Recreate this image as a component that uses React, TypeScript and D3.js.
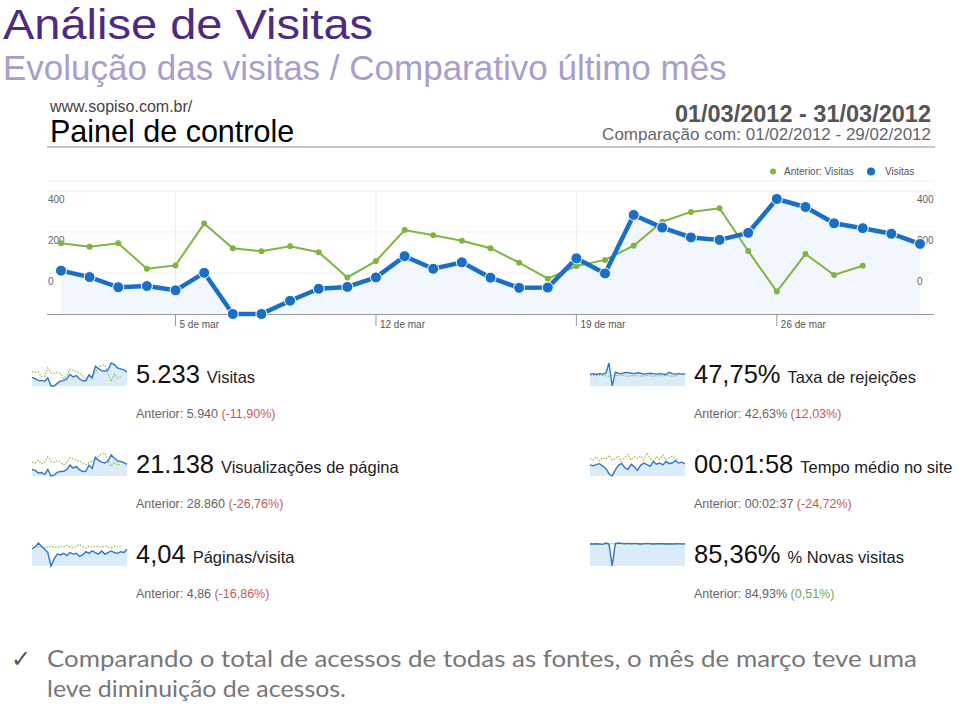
import React from "react";
import * as d3 from "d3";

// ---- Main chart data (visits per day) ----
const visitsCurrent = [141, 120, 87, 91, 77, 134, 0, 0, 43, 82, 88, 119, 188, 147, 168, 118, 85, 86, 181, 132, 322, 281, 249, 241, 264, 374, 348, 295, 279, 261, 228];
const visitsPrevious = [230, 219, 230, 147, 158, 294, 214, 204, 220, 201, 119, 172, 273, 256, 238, 214, 167, 115, 156, 176, 222, 300, 332, 344, 205, 73, 195, 127, 157];
const xTickDays = [5, 12, 19, 26];
const xTickLabels = ["5 de mar", "12 de mar", "19 de mar", "26 de mar"];
const yTickLabels = ["400", "200", "0"];
const yGridValues = [400, 267, 133];
const legendLabels = ["Anterior: Visitas", "Visitas"];

// ---- Metric blocks ----
const metricValues = ["5.233", "47,75%", "21.138", "00:01:58", "4,04", "85,36%"];
const metricLabels = ["Visitas", "Taxa de rejeições", "Visualizações de página", "Tempo médio no site", "Páginas/visita", "% Novas visitas"];
const metricPrevious = ["Anterior: 5.940 ", "Anterior: 42,63% ", "Anterior: 28.860 ", "Anterior: 00:02:37 ", "Anterior: 4,86 ", "Anterior: 84,93% "];
const metricChanges = ["(-11,90%)", "(12,03%)", "(-26,76%)", "(-24,72%)", "(-16,86%)", "(0,51%)"];
const metricChangeGood = [false, false, false, false, false, true];

// sparkline series (current / previous)
const pageviewsCurrent = [560, 520, 400, 420, 340, 560, 260, 300, 430, 470, 480, 560, 760, 620, 700, 540, 470, 480, 760, 600, 1120, 980, 900, 860, 950, 1230, 1080, 960, 930, 880, 800];
const pageviewsPrevious = [900, 860, 980, 820, 900, 1150, 940, 880, 960, 870, 760, 900, 1100, 1050, 980, 940, 860, 780, 880, 950, 1000, 1200, 1280, 1320, 950, 700, 880, 760, 820];
const bounceCurrent = [46, 47, 45, 47, 46, 48, 72, 18, 50, 48, 47, 49, 50, 48, 47, 49, 48, 46, 47, 48, 47, 46, 47, 46, 45, 50, 47, 46, 47, 46, 46];
const bouncePrevious = [42, 43, 42, 44, 43, 42, 41, 43, 42, 44, 43, 42, 41, 42, 43, 42, 41, 42, 43, 42, 41, 42, 43, 42, 43, 42, 41, 42, 43];
const timeCurrent = [118, 112, 120, 126, 110, 95, 60, 45, 85, 115, 128, 100, 88, 122, 105, 82, 115, 130, 120, 108, 140, 122, 130, 118, 140, 126, 132, 146, 130, 136, 124];
const timePrevious = [160, 150, 170, 145, 165, 155, 180, 150, 160, 178, 140, 165, 188, 150, 172, 160, 176, 150, 196, 160, 145, 170, 155, 182, 150, 165, 176, 160, 150];
const pagesCurrent = [4.6, 4.8, 5.3, 4.9, 4.5, 4.1, 2.4, 3.3, 3.9, 3.8, 4.0, 3.7, 4.1, 3.9, 4.0, 3.6, 3.8, 4.2, 4.0, 4.3, 4.1, 3.9, 4.3, 3.9, 4.1, 4.3, 4.1, 4.0, 4.2, 4.1, 4.5];
const pagesPrevious = [5.0, 4.9, 4.8, 4.9, 4.7, 4.8, 4.9, 4.8, 4.7, 4.9, 4.8, 5.0, 4.8, 4.7, 4.9, 5.1, 4.8, 4.7, 4.9, 4.8, 4.9, 4.8, 4.8, 4.9, 4.8, 4.7, 4.9, 4.8, 4.9];
const newCurrent = [84, 84, 85, 84, 83, 87, 84, 20, 85, 87, 86, 85, 86, 85, 86, 85, 84, 85, 86, 85, 84, 85, 85, 85, 84, 85, 84, 85, 85, 84, 85];
const newPrevious = [84, 85, 84, 85, 84, 85, 84, 85, 84, 85, 85, 84, 85, 84, 85, 85, 84, 85, 84, 85, 84, 85, 85, 84, 85, 84, 85, 84, 85];

const sparkCurrent = [visitsCurrent, bounceCurrent, pageviewsCurrent, timeCurrent, pagesCurrent, newCurrent];
const sparkPrevious = [visitsPrevious, bouncePrevious, pageviewsPrevious, timePrevious, pagesPrevious, newPrevious];

const bulletLines = [
  "Comparando o total de acessos de todas as fontes, o mês de março teve uma",
  "leve diminuição de acessos.",
];

const SANS = "'Liberation Sans', Arial, Helvetica, sans-serif";

function Sparkline({ x0, y0, w, h, cur, prev }: { x0: number; y0: number; w: number; h: number; cur: number[]; prev: number[] }) {
  const all = cur.concat(prev);
  const xs = d3.scaleLinear().domain([0, cur.length - 1]).range([x0, x0 + w]);
  const ys = d3.scaleLinear().domain([d3.min(all) as number, d3.max(all) as number]).range([y0 + h, y0 + 1]);
  const area = d3.area<number>().x((_, i) => xs(i)).y0(y0 + h).y1((d) => ys(d));
  const line = d3.line<number>().x((_, i) => xs(i)).y((d) => ys(d));
  return (
    <g>
      <path d={area(cur) || ""} fill="#dcebf8" />
      <path d={line(prev) || ""} fill="none" stroke="#8fc04c" strokeWidth={1.2} strokeDasharray="1.5,1.5" />
      <path d={line(cur) || ""} fill="none" stroke="#2f78c2" strokeWidth={1.4} />
    </g>
  );
}

export default function App() {
  const x = d3.scaleLinear().domain([1, 31]).range([61, 920]);
  const y = d3.scaleLinear().domain([0, 400]).range([314, 191]);
  const line = d3.line<number>().x((_, i) => x(i + 1)).y((d) => y(d));
  const area = d3.area<number>().x((_, i) => x(i + 1)).y0(y(0)).y1((d) => y(d));

  const colX = [{ spark: 32, text: 136 }, { spark: 590, text: 694 }];
  const rowTop = [362, 452, 542];

  return (
    <svg width={960} height={706} style={{ position: "absolute", left: 0, top: 0, background: "#fff" }} fontFamily={SANS}>
      <rect x={0} y={0} width={960} height={706} fill="#fff" />
      {/* Slide title */}
      <text x={3} y={39} fontSize={43} fill="#4e2a84" textLength={370} lengthAdjust="spacingAndGlyphs">Análise de Visitas</text>
      <text x={3} y={80} fontSize={35} fill="#a79fca">Evolução das visitas / Comparativo último mês</text>

      {/* Dashboard header */}
      <text x={50} y={112} fontSize={16} fill="#444">www.sopiso.com.br/</text>
      <text x={50} y={142} fontSize={30.5} fill="#000">Painel de controle</text>
      <text x={931} y={122} fontSize={23.5} fontWeight="bold" fill="#555" textAnchor="end">01/03/2012 - 31/03/2012</text>
      <text x={931} y={140} fontSize={17} fill="#666" textAnchor="end">Comparação com: 01/02/2012 - 29/02/2012</text>
      <line x1={47} x2={935} y1={147} y2={147} stroke="#c4c4c4" strokeWidth={2} />

      {/* Legend */}
      <circle cx={773} cy={171.5} r={3} fill="#80b441" />
      <text x={784} y={175} fontSize={10} fill="#555">{legendLabels[0]}</text>
      <circle cx={871} cy={171.5} r={4} fill="#1a6fc4" />
      <text x={885} y={175} fontSize={10} fill="#555">{legendLabels[1]}</text>
      <line x1={47} x2={935} y1={181} y2={181} stroke="#ececec" strokeWidth={1} />

      {/* Main chart gridlines */}
      {yGridValues.map((v) => (
        <line key={"g" + v} x1={47} x2={934} y1={y(v)} y2={y(v)} stroke="#f0f0f0" strokeWidth={1} />
      ))}
      {xTickDays.map((d) => (
        <line key={"vg" + d} x1={x(d)} x2={x(d)} y1={191} y2={314} stroke="#ececec" strokeWidth={1} />
      ))}

      {/* Area under current */}
      <path d={area(visitsCurrent) || ""} fill="#f1f7fc" />

      {/* Axis labels */}
      {yTickLabels.map((t, i) => (
        <g key={"yl" + t}>
          <text x={48} y={y(yGridValues[i]) + 12} fontSize={10} fill="#666">{t}</text>
          <text x={917} y={y(yGridValues[i]) + 12} fontSize={10} fill="#666">{t}</text>
        </g>
      ))}

      {/* Baseline and x ticks */}
      <line x1={47} x2={934} y1={314.5} y2={314.5} stroke="#999" strokeWidth={1} />
      {xTickDays.map((d, i) => (
        <g key={"xt" + d}>
          <line x1={x(d)} x2={x(d)} y1={314} y2={326} stroke="#999" strokeWidth={1} />
          <text x={x(d) + 4} y={328} fontSize={10} fill="#555">{xTickLabels[i]}</text>
        </g>
      ))}

      {/* Previous series */}
      <path d={line(visitsPrevious) || ""} fill="none" stroke="#80b441" strokeWidth={2} />
      {visitsPrevious.map((v, i) => (
        <circle key={"p" + i} cx={x(i + 1)} cy={y(v)} r={3} fill="#80b441" />
      ))}

      {/* Current series */}
      <path d={line(visitsCurrent) || ""} fill="none" stroke="#1a6fc4" strokeWidth={4.5} strokeLinejoin="round" />
      {visitsCurrent.map((v, i) => (
        <circle key={"c" + i} cx={x(i + 1)} cy={y(v)} r={5.5} fill="#1a6fc4" stroke="#ffffff" strokeWidth={1} />
      ))}

      {/* Metric blocks */}
      {metricValues.map((val, k) => {
        const col = colX[k % 2];
        const top = rowTop[Math.floor(k / 2)];
        return (
          <g key={"m" + k}>
            <Sparkline x0={col.spark} y0={top} w={95} h={24} cur={sparkCurrent[k]} prev={sparkPrevious[k]} />
            <text x={col.text} y={top + 21} fill="#111">
              <tspan fontSize={25.5}>{val}</tspan>
              <tspan fontSize={16.5} dx={7} fill="#222">{metricLabels[k]}</tspan>
            </text>
            <text x={col.text} y={top + 56} fontSize={12.5} fill="#666">
              <tspan>{metricPrevious[k]}</tspan>
              <tspan fill={metricChangeGood[k] ? "#6fa856" : "#c25b56"}>{metricChanges[k]}</tspan>
            </text>
          </g>
        );
      })}

      {/* Bullet text */}
      <text x={11} y={667} fontSize={24} fill="#555" fontFamily="'DejaVu Sans', sans-serif">✓</text>
      <text x={47} y={667} fontSize={23} fill="#777" fontFamily="Lato, 'Open Sans', sans-serif" textLength={870} lengthAdjust="spacingAndGlyphs">{bulletLines[0]}</text>
      <text x={47} y={697} fontSize={23} fill="#777" fontFamily="Lato, 'Open Sans', sans-serif" textLength={299} lengthAdjust="spacingAndGlyphs">{bulletLines[1]}</text>
    </svg>
  );
}
